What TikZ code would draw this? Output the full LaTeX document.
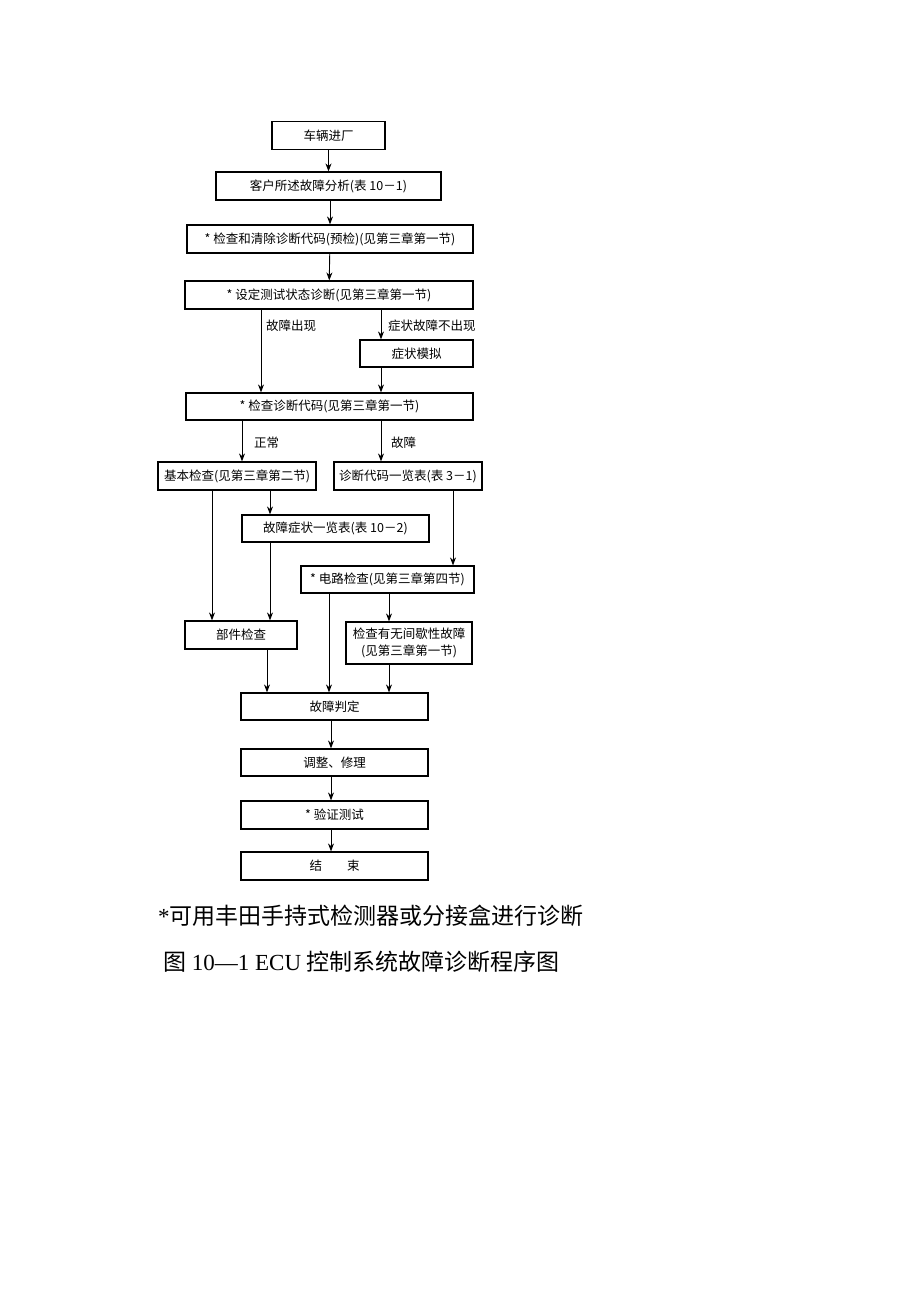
\documentclass[tikz,border=0pt]{standalone}
\usepackage{fontspec}
\setmainfont{Liberation Serif}
\newfontfamily\cjk{Noto Sans CJK SC}
\usetikzlibrary{arrows.meta}

\begin{document}
\begin{tikzpicture}[x=1pt,y=-1pt,
    box/.style={draw,line width=1.2pt,inner sep=0pt,minimum height=28pt,align=center,
        font=\cjk\fontsize{12.5}{17}\selectfont},
    lbl/.style={anchor=west,inner sep=0pt,font=\cjk\fontsize{12.5}{15}\selectfont},
    line/.style={line width=0.9pt,-{Stealth[length=8pt,width=6pt]}}]
    \fill[white] (0,0) rectangle (920,1302);
    \useasboundingbox (0,0) rectangle (920,1302);
    % main boxes
    \node[box,minimum width=113pt] (enter) at (328.5,135.5) {车辆进厂};
    \node[box,minimum width=225pt] (customer) at (328.5,186) {客户所述故障分析(表 10－1)};
    \node[box,minimum width=286pt] (precheck) at (330,239) {* 检查和清除诊断代码(预检)(见第三章第一节)};
    \node[box,minimum width=288pt] (setup) at (329,295) {* 设定测试状态诊断(见第三章第一节)};
    \node[box,minimum width=113pt,minimum height=27pt] (simulate) at (416.5,353.5) {症状模拟};
    \node[box,minimum width=287pt,minimum height=27pt] (readcode) at (329.5,406.5) {* 检查诊断代码(见第三章第一节)};
    \node[box,minimum width=158pt] (basic) at (237,476) {基本检查(见第三章第二节)};
    \node[box,minimum width=148pt] (codelist) at (408,476) {诊断代码一览表(表 3－1)};
    \node[box,minimum width=187pt,minimum height=27pt] (symlist) at (335.5,528.5) {故障症状一览表(表 10－2)};
    \node[box,minimum width=173pt,minimum height=27pt] (circuit) at (387.5,579.5) {* 电路检查(见第三章第四节)};
    \node[box,minimum width=112pt] (parts) at (241,635) {部件检查};
    \node[box,minimum width=126pt,minimum height=42pt] (intermit) at (409,643) {检查有无间歇性故障\\(见第三章第一节)};
    \node[box,minimum width=187pt,minimum height=27pt] (judge) at (334.5,706.5) {故障判定};
    \node[box,minimum width=187pt,minimum height=27pt] (repair) at (334.5,762.5) {调整、修理};
    \node[box,minimum width=187pt] (verify) at (334.5,815) {* 验证测试};
    \node[box,minimum width=187pt] (finish) at (334.5,866) {结\hspace{2em}束};
    % branch labels
    \node[lbl] (appear) at (266,326) {故障出现};
    \node[lbl] (noappear) at (388,326) {症状故障不出现};
    \node[lbl] (normal) at (254,443) {正常};
    \node[lbl] (faulty) at (391,443) {故障};
    % columns of the connectors
    \coordinate (xa) at (261,0);
    \coordinate (xb) at (381,0);
    \coordinate (xc) at (242,0);
    \coordinate (xd) at (212,0);
    \coordinate (xe) at (270,0);
    \coordinate (xf) at (453,0);
    \coordinate (xg) at (329,0);
    \coordinate (xh) at (389,0);
    \coordinate (xi) at (267,0);
    \coordinate (xj) at (331,0);
    % connectors
    \draw[line] (enter) -- (customer);
    \draw[line] (customer.south -| precheck) -- (precheck);
    \draw[line] (precheck) -- (setup);
    \draw[line] (setup.south -| xa) -- (readcode.north -| xa);
    \draw[line] (setup.south -| xb) -- (simulate.north -| xb);
    \draw[line] (simulate.south -| xb) -- (readcode.north -| xb);
    \draw[line] (readcode.south -| xc) -- (basic.north -| xc);
    \draw[line] (readcode.south -| xb) -- (codelist.north -| xb);
    \draw[line] (basic.south -| xd) -- (parts.north -| xd);
    \draw[line] (basic.south -| xe) -- (symlist.north -| xe);
    \draw[line] (symlist.south -| xe) -- (parts.north -| xe);
    \draw[line] (codelist.south -| xf) -- (circuit.north -| xf);
    \draw[line] (circuit.south -| xg) -- (judge.north -| xg);
    \draw[line] (circuit.south -| xh) -- (intermit.north -| xh);
    \draw[line] (parts.south -| xi) -- (judge.north -| xi);
    \draw[line] (intermit.south -| xh) -- (judge.north -| xh);
    \draw[line] (judge.south -| xj) -- (repair.north -| xj);
    \draw[line] (repair.south -| xj) -- (verify.north -| xj);
    \draw[line] (verify.south -| xj) -- (finish.north -| xj);
    % notes below
    \node[anchor=west,inner sep=0pt,font=\fontsize{23}{27}\selectfont] (note) at (158,916) {*{\cjk 可用丰田手持式检测器或分接盒进行诊断}};
    \node[anchor=west,inner sep=0pt,font=\fontsize{23}{27}\selectfont] (caption) at (163,962) {{\cjk 图} 10—1 ECU {\cjk 控制系统故障诊断程序图}};
\end{tikzpicture}
\end{document}
